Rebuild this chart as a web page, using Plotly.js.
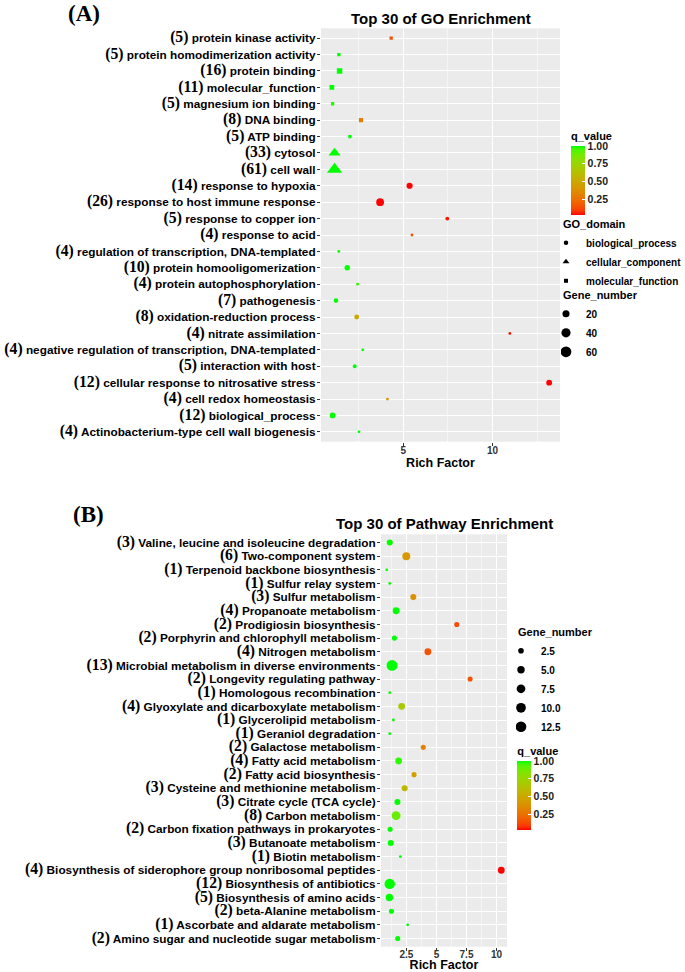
<!DOCTYPE html>
<html>
<head>
<meta charset="utf-8">
<script src="https://cdn.plot.ly/plotly-3.0.1.min.js"></script>
<style>html,body{margin:0;padding:0;background:#fff;}</style>
</head>
<body>
<div id="chart" style="width:685px;height:972px;"></div>
<script>
// ---------------- Panel A: GO enrichment ----------------
const goTerms = [
  "protein kinase activity",
  "protein homodimerization activity",
  "protein binding",
  "molecular_function",
  "magnesium ion binding",
  "DNA binding",
  "ATP binding",
  "cytosol",
  "cell wall",
  "response to hypoxia",
  "response to host immune response",
  "response to copper ion",
  "response to acid",
  "regulation of transcription, DNA-templated",
  "protein homooligomerization",
  "protein autophosphorylation",
  "pathogenesis",
  "oxidation-reduction process",
  "nitrate assimilation",
  "negative regulation of transcription, DNA-templated",
  "interaction with host",
  "cellular response to nitrosative stress",
  "cell redox homeostasis",
  "biological_process",
  "Actinobacterium-type cell wall biogenesis"
];
const goGenes = [5, 5, 16, 11, 5, 8, 5, 33, 61, 14, 26, 5, 4, 4, 10, 4, 7, 8, 4, 4, 5, 12, 4, 12, 4];
const goRich = [4.33, 1.40, 1.44, 1.01, 1.05, 2.64, 2.02, 1.16, 1.16, 5.36, 3.71, 7.47, 5.49, 1.40, 1.87, 2.45, 1.24, 2.40, 10.97, 2.74, 2.29, 13.17, 4.12, 1.05, 2.53];
const goQ = [0.15, 1.00, 1.00, 1.00, 0.98, 0.30, 1.00, 1.00, 1.00, 0.03, 0.03, 0.05, 0.15, 1.00, 1.00, 0.97, 1.00, 0.50, 0.05, 1.00, 1.00, 0.03, 0.40, 1.00, 1.00];
const goDomain = [
  "molecular_function", "molecular_function", "molecular_function", "molecular_function",
  "molecular_function", "molecular_function", "molecular_function",
  "cellular_component", "cellular_component",
  "biological_process", "biological_process", "biological_process", "biological_process",
  "biological_process", "biological_process", "biological_process", "biological_process",
  "biological_process", "biological_process", "biological_process", "biological_process",
  "biological_process", "biological_process", "biological_process", "biological_process"
];
const goDomainLevels = ["biological_process", "cellular_component", "molecular_function"];
const goSizeBreaks = [20, 40, 60];

// ---------------- Panel B: pathway enrichment ----------------
const pwTerms = [
  "Valine, leucine and isoleucine degradation",
  "Two-component system",
  "Terpenoid backbone biosynthesis",
  "Sulfur relay system",
  "Sulfur metabolism",
  "Propanoate metabolism",
  "Prodigiosin biosynthesis",
  "Porphyrin and chlorophyll metabolism",
  "Nitrogen metabolism",
  "Microbial metabolism in diverse environments",
  "Longevity regulating pathway",
  "Homologous recombination",
  "Glyoxylate and dicarboxylate metabolism",
  "Glycerolipid metabolism",
  "Geraniol degradation",
  "Galactose metabolism",
  "Fatty acid metabolism",
  "Fatty acid biosynthesis",
  "Cysteine and methionine metabolism",
  "Citrate cycle (TCA cycle)",
  "Carbon metabolism",
  "Carbon fixation pathways in prokaryotes",
  "Butanoate metabolism",
  "Biotin metabolism",
  "Biosynthesis of siderophore group nonribosomal peptides",
  "Biosynthesis of antibiotics",
  "Biosynthesis of amino acids",
  "beta-Alanine metabolism",
  "Ascorbate and aldarate metabolism",
  "Amino sugar and nucleotide sugar metabolism"
];
const pwGenes = [3, 6, 1, 1, 3, 4, 2, 2, 4, 13, 2, 1, 4, 1, 1, 2, 4, 2, 3, 3, 8, 2, 3, 1, 4, 12, 5, 2, 1, 2];
const pwRich = [1.12, 2.50, 0.87, 1.12, 3.08, 1.65, 6.69, 1.51, 4.29, 1.31, 7.80, 1.12, 2.11, 1.42, 1.12, 3.91, 1.86, 3.14, 2.36, 1.76, 1.65, 1.15, 1.20, 2.00, 10.39, 1.12, 1.09, 1.26, 2.61, 1.78];
const pwQ = [1.00, 0.42, 1.00, 1.00, 0.38, 1.00, 0.13, 1.00, 0.15, 1.00, 0.15, 1.00, 0.68, 1.00, 1.00, 0.32, 0.97, 0.45, 0.58, 1.00, 0.90, 1.00, 1.00, 1.00, 0.03, 1.00, 1.00, 1.00, 1.00, 1.00];
const pwSizeBreaks = [2.5, 5.0, 7.5, 10.0, 12.5];

// ---------------- helpers (styling only) ----------------
const W = 685, H = 972;
const px2x = p => p / W;
const px2y = p => 1 - p / H;

function toLin(c){ c /= 255; return c <= 0.04045 ? c / 12.92 : Math.pow((c + 0.055) / 1.055, 2.4); }
function toSrgb(c){ c = c <= 0.0031308 ? 12.92 * c : 1.055 * Math.pow(c, 1 / 2.4) - 0.055; return Math.round(Math.max(0, Math.min(1, c)) * 255); }
function rgb2lab(rgb){
  const R = toLin(rgb[0]), G = toLin(rgb[1]), B = toLin(rgb[2]);
  const X = (0.4124 * R + 0.3576 * G + 0.1805 * B) / 0.95047;
  const Y = 0.2126 * R + 0.7152 * G + 0.0722 * B;
  const Z = (0.0193 * R + 0.1192 * G + 0.9505 * B) / 1.08883;
  const f = t => t > 0.008856 ? Math.cbrt(t) : 7.787 * t + 16 / 116;
  const fx = f(X), fy = f(Y), fz = f(Z);
  return [116 * fy - 16, 500 * (fx - fy), 200 * (fy - fz)];
}
function lab2rgb(lab){
  const fy = (lab[0] + 16) / 116, fx = fy + lab[1] / 500, fz = fy - lab[2] / 200;
  const fi = t => t > 0.206893 ? t * t * t : (t - 16 / 116) / 7.787;
  const X = fi(fx) * 0.95047, Y = fi(fy), Z = fi(fz) * 1.08883;
  const R = 3.2406 * X - 1.5372 * Y - 0.4986 * Z;
  const G = -0.9689 * X + 1.8758 * Y + 0.0415 * Z;
  const B = 0.0557 * X - 0.2040 * Y + 1.0570 * Z;
  return "rgb(" + toSrgb(R) + "," + toSrgb(G) + "," + toSrgb(B) + ")";
}
const labLow = rgb2lab([255, 0, 0]), labHigh = rgb2lab([0, 255, 0]);
const redGreen = [];
for (let i = 0; i <= 20; i++) {
  const t = i / 20;
  redGreen.push([t, lab2rgb(labLow.map((v, k) => v + (labHigh[k] - v) * t))]);
}

function ggSize(g, gmin, gmax){ return 1 + 5 * Math.sqrt((g - gmin) / (gmax - gmin)); }
function ggPx(g, gmin, gmax){ return 1.6 * ggSize(g, gmin, gmax) + 1.2; }
const symbolOf = { biological_process: "circle", cellular_component: "triangle-up", molecular_function: "square" };
const symbolScale = { biological_process: 1.0, cellular_component: 1.22, molecular_function: 0.85 };
const legendKeySize = { biological_process: 4.5, cellular_component: 6, molecular_function: 4 };

function expandRange(vals){
  const lo = Math.min(...vals), hi = Math.max(...vals), d = (hi - lo) * 0.05;
  return [lo - d, hi + d];
}
function makeLabel(n, name){
  return '<span style="font-family:Liberation Serif;font-size:15.7px">(' + n + ')</span> ' + name;
}

const sans = "Liberation Sans, Arial, sans-serif";
const goMin = Math.min(...goGenes), goMax = Math.max(...goGenes);
const pwMin = Math.min(...pwGenes), pwMax = Math.max(...pwGenes);

const traces = [];
// GO points
traces.push({
  type: "scatter", mode: "markers", xaxis: "x", yaxis: "y", showlegend: false,
  x: goRich, y: goTerms,
  marker: {
    color: goQ, coloraxis: "coloraxis",
    symbol: goDomain.map(d => symbolOf[d]),
    size: goGenes.map((g, i) => ggPx(g, goMin, goMax) * symbolScale[goDomain[i]]),
    line: { width: 0 }, opacity: 1
  },
  hoverinfo: "x+y"
});
// Pathway points
traces.push({
  type: "scatter", mode: "markers", xaxis: "x2", yaxis: "y2", showlegend: false,
  x: pwRich, y: pwTerms,
  marker: {
    color: pwQ, coloraxis: "coloraxis2",
    symbol: "circle",
    size: pwGenes.map(g => ggPx(g, pwMin, pwMax)),
    line: { width: 0 }, opacity: 1
  },
  hoverinfo: "x+y"
});
// Legend: GO_domain
goDomainLevels.forEach(d => {
  traces.push({
    type: "scatter", mode: "markers", xaxis: "x", yaxis: "y", x: [null], y: [null],
    name: d, legend: "legend", showlegend: true,
    marker: { color: "black", symbol: symbolOf[d], size: legendKeySize[d] }
  });
});
// Legend: Gene_number (A)
goSizeBreaks.forEach(v => {
  traces.push({
    type: "scatter", mode: "markers", xaxis: "x", yaxis: "y", x: [null], y: [null],
    name: String(v), legend: "legend2", showlegend: true,
    marker: { color: "black", symbol: "circle", size: ggPx(v, goMin, goMax) }
  });
});
// Legend: Gene_number (B)
pwSizeBreaks.forEach(v => {
  traces.push({
    type: "scatter", mode: "markers", xaxis: "x2", yaxis: "y2", x: [null], y: [null],
    name: v.toFixed(1), legend: "legend3", showlegend: true,
    marker: { color: "black", symbol: "circle", size: ggPx(v, pwMin, pwMax) }
  });
});

const tickFontY = { family: sans, size: 11.8, color: "#000", weight: "bold" };
const tickFontX = { family: sans, size: 10, color: "#333", weight: "bold" };
const axTitleFont = { family: sans, size: 12.5, color: "#000", weight: "bold" };
const legFont = { family: sans, size: 10, color: "#000", weight: "bold" };
const legTitleFont = { family: sans, size: 11, color: "#000", weight: "bold" };

function catAxis(domainPx, terms, genes){
  return {
    domain: [px2y(domainPx[1]), px2y(domainPx[0])],
    type: "category", categoryorder: "array", categoryarray: terms,
    range: [terms.length - 0.4, -0.6],
    tickmode: "array", tickvals: terms, ticktext: terms.map((t, i) => makeLabel(genes[i], t)),
    ticks: "outside", ticklen: 3, tickwidth: 1, tickcolor: "#333",
    tickfont: tickFontY, ticklabelstandoff: -1,
    showgrid: true, gridcolor: "#fff", gridwidth: 1,
    zeroline: false, showline: false, fixedrange: true
  };
}
function numAxis(domainPx, vals, dtick, anchor, standoff){
  return {
    domain: [px2x(domainPx[0]), px2x(domainPx[1])],
    anchor: anchor,
    range: expandRange(vals), tickmode: "linear", tick0: 0, dtick: dtick,
    ticks: "outside", ticklen: 3, tickwidth: 1, tickcolor: "#333",
    tickfont: tickFontX, ticklabelstandoff: standoff,
    showgrid: true, gridcolor: "#fff", gridwidth: 1,
    minor: { tickmode: "linear", tick0: 0, dtick: dtick / 2, showgrid: true, gridcolor: "#fff", gridwidth: 0.5, ticks: "" },
    zeroline: false, showline: false, fixedrange: true,
    title: { text: "Rich Factor", font: axTitleFont, standoff: 0 }
  };
}
function colorbar(xPx, topPx){
  return {
    x: px2x(xPx), xanchor: "left", y: px2y(topPx), yanchor: "top",
    len: 86, lenmode: "pixels", thickness: 14, thicknessmode: "pixels",
    outlinewidth: 0, xpad: 0, ypad: 0,
    tickmode: "array", tickvals: [0.25, 0.5, 0.75, 1.0], ticktext: ["0.25", "0.50", "0.75", "1.00"],
    ticks: "inside", ticklen: 3, tickcolor: "#fff", tickwidth: 1,
    tickfont: { family: sans, size: 10.5, color: "#222", weight: "bold" },
    title: { text: "q_value", side: "top", font: legTitleFont }
  };
}
function legendBox(xPx, topPx, title){
  return {
    x: px2x(xPx), xanchor: "left", y: px2y(topPx), yanchor: "top",
    bgcolor: "rgba(0,0,0,0)", borderwidth: 0, font: legFont, tracegroupgap: 0,
    indentation: -15,
    title: { text: title, font: legTitleFont }
  };
}

const layout = {
  width: W, height: H,
  margin: { l: 0, r: 0, t: 0, b: 0, pad: 0, autoexpand: false },
  paper_bgcolor: "#fff", plot_bgcolor: "#EBEBEB",
  font: { family: sans, color: "#000" },
  xaxis: numAxis([321, 560], goRich, 5, "y", -4),
  yaxis: catAxis([28.3, 441.7], goTerms, goGenes),
  xaxis2: numAxis([381, 507], pwRich, 2.5, "y2", -5),
  yaxis2: Object.assign(catAxis([534.3, 946.7], pwTerms, pwGenes), { anchor: "x2" }),
  coloraxis: { colorscale: redGreen, cmin: Math.min(...goQ), cmax: 1, colorbar: colorbar(571, 129) },
  coloraxis2: { colorscale: redGreen, cmin: Math.min(...pwQ), cmax: 1, colorbar: colorbar(517.3, 744) },
  legend: legendBox(561, 214, "GO_domain"),
  legend2: legendBox(561, 285, "Gene_number"),
  legend3: legendBox(516, 622, "Gene_number"),
  annotations: [
    { text: "Top 30 of GO Enrichment", xref: "paper", yref: "paper", x: px2x(440.5), y: px2y(18.3), xanchor: "center", yanchor: "middle", showarrow: false,
      font: { family: sans, size: 15, color: "#000", weight: "bold" } },
    { text: "Top 30 of Pathway Enrichment", xref: "paper", yref: "paper", x: px2x(444), y: px2y(523.3), xanchor: "center", yanchor: "middle", showarrow: false,
      font: { family: sans, size: 15, color: "#000", weight: "bold" } },
    { text: "(A)", xref: "paper", yref: "paper", x: px2x(84), y: px2y(13), xanchor: "center", yanchor: "middle", showarrow: false,
      font: { family: "Liberation Serif, Times New Roman, serif", size: 23, color: "#000", weight: "bold" } },
    { text: "(B)", xref: "paper", yref: "paper", x: px2x(88), y: px2y(514), xanchor: "center", yanchor: "middle", showarrow: false,
      font: { family: "Liberation Serif, Times New Roman, serif", size: 23, color: "#000", weight: "bold" } }
  ],
  showlegend: true,
  hovermode: "closest"
};

Plotly.newPlot("chart", traces, layout, { displayModeBar: false, responsive: false, staticPlot: true });
</script>
</body>
</html>
